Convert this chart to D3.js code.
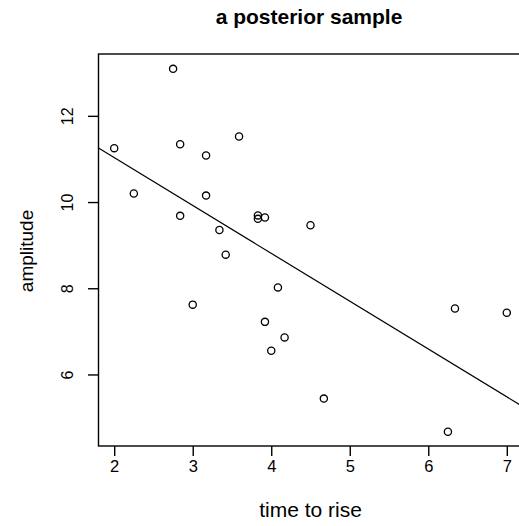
<!DOCTYPE html>
<html>
<head>
<meta charset="utf-8">
<script src="https://cdn.jsdelivr.net/npm/d3@7"></script>
<style>
  html, body { margin: 0; padding: 0; background: #fff; }
  svg { display: block; }
  text { font-family: "Liberation Sans", Arial, Helvetica, sans-serif; fill: #000; }
</style>
</head>
<body>
<svg id="chart" width="519" height="526"></svg>
<script>
// ---- data ----
const timeToRise = [2.0, 2.25, 2.75, 2.84, 2.84, 3.0, 3.17, 3.17, 3.34, 3.42, 3.59, 3.83, 3.83, 3.92, 3.92, 4.0, 4.085, 4.17, 4.5, 4.67, 6.25, 6.34, 7.0];
const amplitude  = [11.25, 10.2, 13.09, 11.34, 9.68, 7.62, 11.08, 10.15, 9.35, 8.78, 11.52, 9.69, 9.61, 9.64, 7.22, 6.55, 8.02, 6.86, 9.46, 5.44, 4.67, 7.53, 7.43];
const lineIntercept = 13.25;
const lineSlope = -1.11;
const xTicks = [2, 3, 4, 5, 6, 7];
const yTicks = [6, 8, 10, 12];
const xDomain = [1.8, 7.2];
const yDomain = [4.34, 13.435];
const titleText = "a posterior sample";
const xLabel = "time to rise";
const yLabel = "amplitude";

(function () {
// ---- layout ----
const pLeft = 98.5, pRight = 522.5, pTop = 54, pBottom = 446;
const svg = d3.select("#chart");
const x = d3.scaleLinear().domain(xDomain).range([pLeft, pRight]);
const y = d3.scaleLinear().domain(yDomain).range([pBottom, pTop]);

svg.append("defs").append("clipPath").attr("id", "plotclip")
  .append("rect").attr("x", pLeft).attr("y", pTop).attr("width", pRight - pLeft).attr("height", pBottom - pTop);

// box
svg.append("rect")
  .attr("x", pLeft).attr("y", pTop).attr("width", pRight - pLeft).attr("height", pBottom - pTop)
  .attr("fill", "none").attr("stroke", "#000").attr("stroke-width", 1.4);

// x axis
const xAxis = d3.axisBottom(x).tickValues(xTicks).tickSize(10).tickPadding(0).tickFormat(d3.format("d"));
const gx = svg.append("g").attr("transform", `translate(0,${pBottom})`).call(xAxis);
gx.select(".domain").remove();
gx.selectAll(".tick line").attr("stroke", "#000").attr("stroke-width", 1.4);
gx.selectAll(".tick text").attr("font-size", 16.5).attr("dy", null).attr("y", 26)
  .attr("font-family", "Liberation Sans, Arial, sans-serif").attr("fill", "#000");

// y axis
const yAxis = d3.axisLeft(y).tickValues(yTicks).tickSize(10.5).tickPadding(0).tickFormat(d3.format("d"));
const gy = svg.append("g").attr("transform", `translate(${pLeft},0)`).call(yAxis);
gy.select(".domain").remove();
gy.selectAll(".tick line").attr("stroke", "#000").attr("stroke-width", 1.4);
gy.selectAll(".tick text").remove();
gy.selectAll(".tick").append("text")
  .attr("transform", `translate(${73 - pLeft},0) rotate(-90)`)
  .attr("text-anchor", "middle")
  .attr("font-size", 16)
  .attr("font-family", "Liberation Sans, Arial, sans-serif")
  .text(d => d);

// regression line
svg.append("line")
  .attr("clip-path", "url(#plotclip)")
  .attr("x1", x(xDomain[0])).attr("y1", y(lineIntercept + lineSlope * xDomain[0]))
  .attr("x2", x(xDomain[1])).attr("y2", y(lineIntercept + lineSlope * xDomain[1]))
  .attr("stroke", "#000").attr("stroke-width", 1.2);

// points
svg.append("g").selectAll("circle")
  .data(timeToRise.map((t, i) => [t, amplitude[i]]))
  .join("circle")
  .attr("cx", d => x(d[0])).attr("cy", d => y(d[1])).attr("r", 3.6)
  .attr("fill", "none").attr("stroke", "#000").attr("stroke-width", 1.3);

// title
svg.append("text").attr("x", 309).attr("y", 24).attr("text-anchor", "middle")
  .attr("font-size", 21).attr("font-weight", "bold").text(titleText);

// axis labels
svg.append("text").attr("x", 310.5).attr("y", 517).attr("text-anchor", "middle")
  .attr("font-size", 21).text(xLabel);
svg.append("text").attr("transform", "translate(33,251) rotate(-90)").attr("text-anchor", "middle")
  .attr("font-size", 19).text(yLabel);
})();
</script>
</body>
</html>
